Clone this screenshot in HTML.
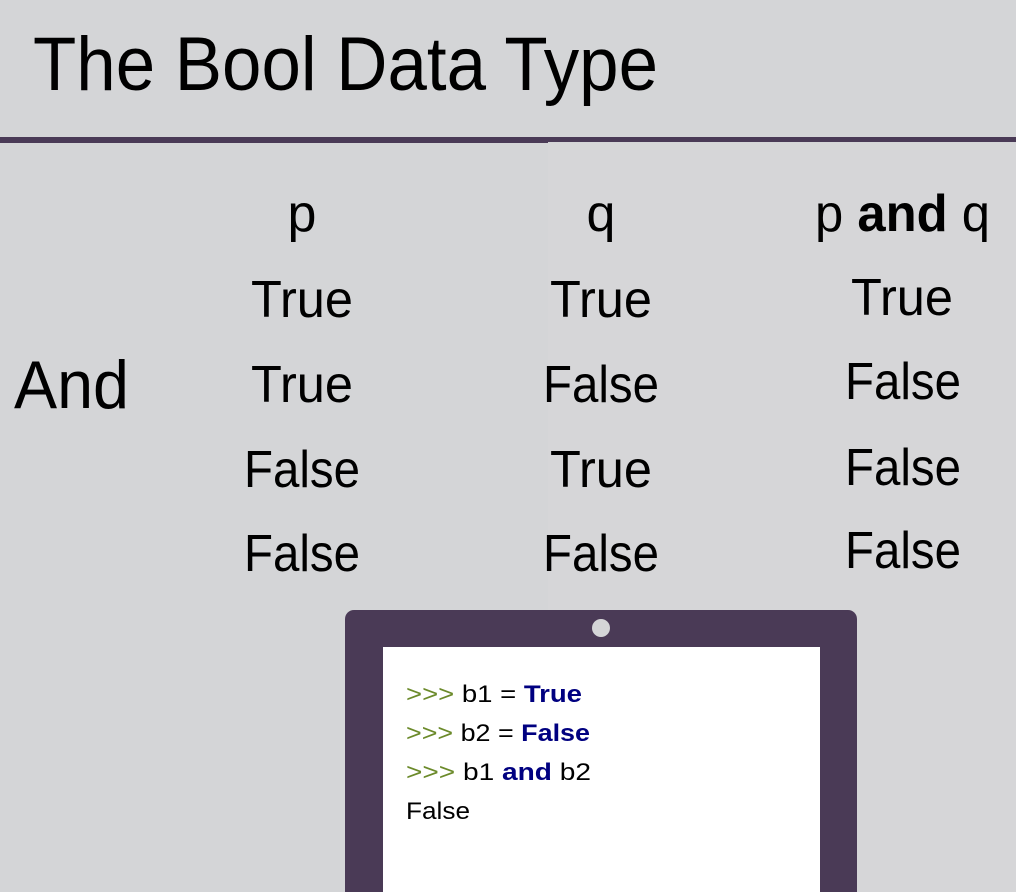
<!DOCTYPE html>
<html><head><meta charset="utf-8"><style>
html,body{margin:0;padding:0;background:#d4d5d7;}
svg{display:block}
text{font-family:"Liberation Sans",sans-serif;fill:#000}
</style></head><body>
<svg width="1016" height="892" viewBox="0 0 1016 892" xmlns="http://www.w3.org/2000/svg">
<rect width="1016" height="892" fill="#d4d5d7"/>
<rect x="548" y="143" width="468" height="749" fill="#d6d6d8"/>
<text x="33" y="90" font-size="76" textLength="625" lengthAdjust="spacingAndGlyphs">The Bool Data Type</text>
<rect x="0" y="137" width="1016" height="5" fill="#4a3a56"/>
<rect x="0" y="141" width="548" height="2" fill="#4a3a56"/>

<text x="14" y="408" font-size="68" textLength="115" lengthAdjust="spacingAndGlyphs">And</text>

<g font-size="52" text-anchor="middle">
<text x="302" y="231">p</text>
<text x="601" y="231">q</text>
<text x="302" y="317" textLength="102" lengthAdjust="spacingAndGlyphs">True</text>
<text x="302" y="402" textLength="102" lengthAdjust="spacingAndGlyphs">True</text>
<text x="302" y="487" textLength="116" lengthAdjust="spacingAndGlyphs">False</text>
<text x="302" y="571" textLength="116" lengthAdjust="spacingAndGlyphs">False</text>
<text x="601" y="317" textLength="102" lengthAdjust="spacingAndGlyphs">True</text>
<text x="601" y="402" textLength="116" lengthAdjust="spacingAndGlyphs">False</text>
<text x="601" y="487" textLength="102" lengthAdjust="spacingAndGlyphs">True</text>
<text x="601" y="571" textLength="116" lengthAdjust="spacingAndGlyphs">False</text>
<text x="902" y="315" textLength="102" lengthAdjust="spacingAndGlyphs">True</text>
<text x="903" y="399" textLength="116" lengthAdjust="spacingAndGlyphs">False</text>
<text x="903" y="485" textLength="116" lengthAdjust="spacingAndGlyphs">False</text>
<text x="903" y="568" textLength="116" lengthAdjust="spacingAndGlyphs">False</text>
</g>
<text x="815" y="231" font-size="52" textLength="175" lengthAdjust="spacingAndGlyphs">p <tspan font-weight="bold">and</tspan> q</text>

<rect x="345" y="610" width="512" height="300" rx="9" fill="#4a3a56"/>
<circle cx="601" cy="628" r="9" fill="#d4d5d7"/>
<rect x="383" y="647" width="437" height="260" fill="#fff"/>
<g font-size="24">
<text x="406" y="702" textLength="176" lengthAdjust="spacingAndGlyphs"><tspan fill="#6b8a2a">&gt;&gt;&gt;</tspan> b1 = <tspan fill="#000080" font-weight="bold">True</tspan></text>
<text x="406" y="741" textLength="184" lengthAdjust="spacingAndGlyphs"><tspan fill="#6b8a2a">&gt;&gt;&gt;</tspan> b2 = <tspan fill="#000080" font-weight="bold">False</tspan></text>
<text x="406" y="780" textLength="185" lengthAdjust="spacingAndGlyphs"><tspan fill="#6b8a2a">&gt;&gt;&gt;</tspan> b1 <tspan fill="#000080" font-weight="bold">and</tspan> b2</text>
<text x="406" y="819" textLength="64" lengthAdjust="spacingAndGlyphs">False</text>
</g>
</svg>
</body></html>
